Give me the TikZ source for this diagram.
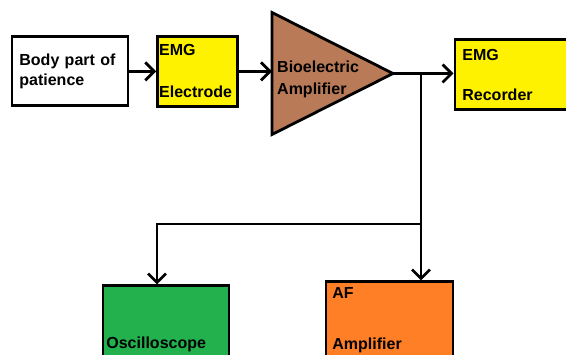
\documentclass[tikz,border=0pt]{standalone}
\usepackage{fontspec}
\setmainfont{Liberation Sans}
\usepackage{tikz}
\usetikzlibrary{shapes.geometric, arrows.meta, positioning}
\definecolor{paintyellow}{RGB}{255, 242, 0}
\definecolor{paintgreen}{RGB}{34, 177, 76}
\definecolor{paintorange}{RGB}{255, 127, 39}
\definecolor{paintbrown}{RGB}{185, 122, 87}
\tikzset{
    font=\fontsize{16}{19.2}\selectfont\bfseries,
    plainbox/.style={rectangle, draw=black, fill=white, line width=2.8pt, align=left, inner ysep=0pt},
    yellowbox/.style={plainbox, fill=paintyellow},
    greenbox/.style={plainbox, fill=paintgreen},
    orangebox/.style={plainbox, fill=paintorange},
    amptri/.style={isosceles triangle, isosceles triangle stretches, shape border rotate=0, draw=black, fill=paintbrown, line width=2.8pt, inner sep=0pt, outer sep=0pt, minimum width=122pt, minimum height=121pt},
    arrow/.style={-{Straight Barb[length=9pt, width=18pt]}, line width=2.8pt},
    link/.style={line width=2.8pt}
}
\begin{document}
\begin{tikzpicture}[x=1pt, y=-1pt]

    \useasboundingbox [fill=white] (0,0) rectangle (566,355);
    \clip (0,0) rectangle (566,355);

    % Source
    \node (body) [plainbox, anchor=north west, text width=101pt, inner xsep=7.5pt, minimum height=69pt] at (10.5,35.5) {Body part of\\patience};

    % Electrode
    \node (elec) [yellowbox, right=27pt of body, text width=77pt, inner xsep=1.5pt, minimum height=70pt] {EMG\\[22.8pt]Electrode};

    % Amplifier
    \node (amp) [amptri, anchor=lower side] at (272,73.5) {};
    \node (amptext) [anchor=north west, inner sep=0pt, align=left] at (277,61) {Bioelectric\\[2.8pt]Amplifier};

    % Recorder
    \node (rec) [yellowbox, anchor=north west, text width=145pt, inner xsep=7.5pt, minimum height=70pt] at (453.5,38.5) {EMG\\[20.8pt]Recorder};

    % Outputs
    \node (osc) [greenbox, anchor=north west, text width=119pt, inner xsep=3.5pt, minimum height=117pt] at (101.5,284.5) {Oscilloscope};
    \node (af) [orangebox, anchor=north west, text width=114pt, inner xsep=6.5pt, minimum height=76pt] at (324.5,280.5) {AF\\[31.8pt]Amplifier};

    % Taps
    \coordinate (bus) at (421,224);
    \coordinate (busleft) at (157,224);
    \coordinate (split) at (bus |- amp.apex);

    % Paths
    \draw [arrow] (body) -- (elec);
    \draw [arrow] (elec.east) -- (elec.east -| amp.lower side);
    \draw [arrow] (amp.apex) -- (amp.apex -| rec.west);
    \draw [arrow] (split) -- (split |- af.north);
    \draw [arrow] (bus) -- (busleft) -- (busleft |- osc.north);

\end{tikzpicture}
\end{document}
